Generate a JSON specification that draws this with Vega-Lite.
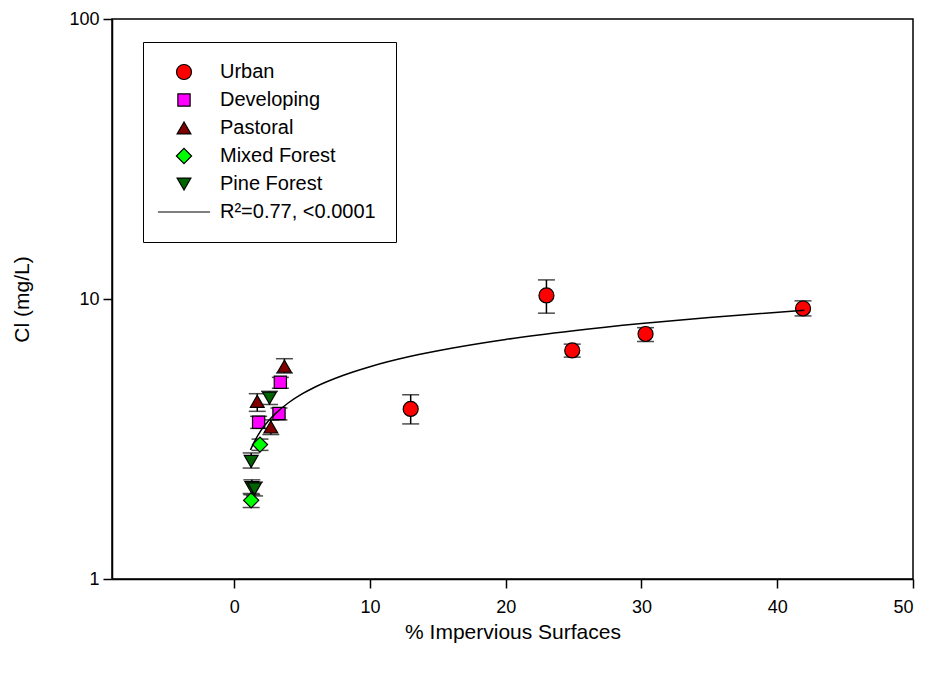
{
  "$schema": "https://vega.github.io/schema/vega-lite/v6.json",
  "width": 801,
  "height": 560,
  "autosize": {"type": "none"},
  "padding": {"left": 112, "top": 19, "right": 13, "bottom": 96},
  "background": "white",
  "config": {
    "font": "Liberation Sans",
    "view": {"stroke": "black", "strokeWidth": 1.5},
    "axis": {
      "domainColor": "black",
      "domainWidth": 1.5,
      "tickColor": "black",
      "tickWidth": 1.5,
      "tickSize": 9,
      "labelColor": "black",
      "labelFontSize": 18,
      "titleColor": "black",
      "titleFontSize": 21,
      "titleFontWeight": "normal",
      "grid": false
    }
  },
  "datasets": {
    "obs": [
      {"landuse": "Urban", "imperv": 13.0, "cl": 4.05, "lo": 3.58, "hi": 4.55},
      {"landuse": "Urban", "imperv": 23.0, "cl": 10.3, "lo": 8.9, "hi": 11.7},
      {"landuse": "Urban", "imperv": 24.9, "cl": 6.55, "lo": 6.2, "hi": 6.9},
      {"landuse": "Urban", "imperv": 30.3, "cl": 7.5, "lo": 7.05, "hi": 7.9},
      {"landuse": "Urban", "imperv": 41.9, "cl": 9.25, "lo": 8.7, "hi": 9.85},
      {"landuse": "Developing", "imperv": 3.4, "cl": 5.04, "lo": 4.8, "hi": 5.25},
      {"landuse": "Developing", "imperv": 3.3, "cl": 3.9, "lo": 3.7, "hi": 4.08},
      {"landuse": "Developing", "imperv": 1.8, "cl": 3.63, "lo": 3.45, "hi": 3.81},
      {"landuse": "Pastoral", "imperv": 3.7, "cl": 5.75, "lo": 5.44, "hi": 6.12},
      {"landuse": "Pastoral", "imperv": 1.7, "cl": 4.31, "lo": 3.97, "hi": 4.59},
      {"landuse": "Pastoral", "imperv": 2.7, "cl": 3.49, "lo": 3.28, "hi": 3.7},
      {"landuse": "Mixed Forest", "imperv": 1.9, "cl": 3.02, "lo": 2.88, "hi": 3.16},
      {"landuse": "Mixed Forest", "imperv": 1.25, "cl": 1.91, "lo": 1.8, "hi": 2.02},
      {"landuse": "Pine Forest", "imperv": 2.6, "cl": 4.43, "lo": 4.2, "hi": 4.68},
      {"landuse": "Pine Forest", "imperv": 1.25, "cl": 2.63, "lo": 2.49, "hi": 2.82},
      {"landuse": "Pine Forest", "imperv": 1.3, "cl": 2.12, "lo": 2.0, "hi": 2.26},
      {"landuse": "Pine Forest", "imperv": 1.5, "cl": 2.1, "lo": 1.98, "hi": 2.22}
    ],
    "fit": [
      {"imperv": 1.2, "cl": 2.89},
      {"imperv": 1.5, "cl": 3.1},
      {"imperv": 2, "cl": 3.41},
      {"imperv": 2.5, "cl": 3.66},
      {"imperv": 3, "cl": 3.88},
      {"imperv": 4, "cl": 4.26},
      {"imperv": 5, "cl": 4.58},
      {"imperv": 6, "cl": 4.86},
      {"imperv": 8, "cl": 5.33},
      {"imperv": 10, "cl": 5.73},
      {"imperv": 13, "cl": 6.24},
      {"imperv": 16, "cl": 6.67},
      {"imperv": 20, "cl": 7.17},
      {"imperv": 25, "cl": 7.7},
      {"imperv": 30, "cl": 8.17},
      {"imperv": 35, "cl": 8.59},
      {"imperv": 42, "cl": 9.11}
    ]
  },
  "layer": [
    {
      "data": {"name": "obs"},
      "mark": {"type": "rule", "color": "black", "strokeWidth": 1.5},
      "encoding": {
        "x": {"field": "imperv", "type": "quantitative"},
        "y": {"field": "lo", "type": "quantitative"},
        "y2": {"field": "hi"}
      }
    },
    {
      "data": {"name": "obs"},
      "mark": {"type": "tick", "orient": "horizontal", "color": "black", "size": 17, "thickness": 1.5},
      "encoding": {
        "x": {"field": "imperv", "type": "quantitative"},
        "y": {"field": "lo", "type": "quantitative"}
      }
    },
    {
      "data": {"name": "obs"},
      "mark": {"type": "tick", "orient": "horizontal", "color": "black", "size": 17, "thickness": 1.5},
      "encoding": {
        "x": {"field": "imperv", "type": "quantitative"},
        "y": {"field": "hi", "type": "quantitative"}
      }
    },
    {
      "data": {"name": "obs"},
      "mark": {"type": "point", "filled": true, "opacity": 1, "stroke": "black", "strokeWidth": 1.2},
      "encoding": {
        "x": {
          "field": "imperv",
          "type": "quantitative",
          "scale": {"domain": [-9, 50], "nice": false, "zero": false},
          "axis": {"values": [0, 10, 20, 30, 40, 50], "title": "% Impervious Surfaces", "labelPadding": 10, "titlePadding": 5}
        },
        "y": {
          "field": "cl",
          "type": "quantitative",
          "scale": {"type": "log", "domain": [1, 100], "nice": false},
          "axis": {"values": [1, 10, 100], "format": "d", "title": "Cl (mg/L)", "labelPadding": 4, "titlePadding": 36}
        },
        "color": {
          "field": "landuse",
          "type": "nominal",
          "scale": {
            "domain": ["Urban", "Developing", "Pastoral", "Mixed Forest", "Pine Forest", "R²=0.77, <0.0001"],
            "range": ["#FF0000", "#FF00FF", "#800000", "#00FF00", "#006400", "#000000"]
          },
          "legend": {
            "orient": "none",
            "legendX": 31,
            "legendY": 23,
            "title": null,
            "strokeColor": "black",
            "padding": 20,
            "symbolOffset": 11,
            "labelOffset": 26,
            "labelFontSize": 20,
            "labelColor": "black",
            "rowPadding": 8,
            "symbolStrokeColor": "black",
            "symbolStrokeWidth": 1.2,
            "symbolOpacity": 1
          }
        },
        "shape": {
          "field": "landuse",
          "type": "nominal",
          "scale": {
            "domain": ["Urban", "Developing", "Pastoral", "Mixed Forest", "Pine Forest", "R²=0.77, <0.0001"],
            "range": ["circle", "square", "triangle-up", "diamond", "triangle-down", "M-4,0H4"]
          }
        },
        "size": {
          "field": "landuse",
          "type": "nominal",
          "scale": {
            "type": "ordinal",
            "domain": ["Urban", "Developing", "Pastoral", "Mixed Forest", "Pine Forest", "R²=0.77, <0.0001"],
            "range": [225, 150, 190, 230, 190, 170]
          }
        }
      }
    },
    {
      "data": {"name": "fit"},
      "mark": {"type": "line", "color": "black", "strokeWidth": 1.5, "interpolate": "monotone"},
      "encoding": {
        "x": {"field": "imperv", "type": "quantitative"},
        "y": {"field": "cl", "type": "quantitative"}
      }
    }
  ]
}
